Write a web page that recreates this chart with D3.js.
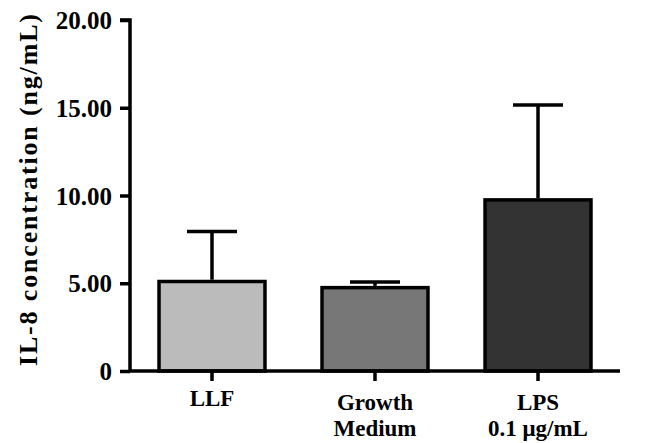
<!DOCTYPE html>
<html>
<head>
<meta charset="utf-8">
<script src="https://cdn.jsdelivr.net/npm/d3@7"></script>
<style>
  body { margin: 0; background: #fff; }
  text { font-family: "Liberation Serif", "Times New Roman", serif; font-weight: bold; fill: #000; }
</style>
</head>
<body>
<svg width="651" height="443"></svg>
<script>
// IL-8 bar chart with SD error bars
var groups = ["LLF", "Growth Medium", "LPS 0.1 μg/mL"];
var labelLines = [["LLF"], ["Growth", "Medium"], ["LPS", "0.1 μg/mL"]];
var means = [5.1, 4.75, 9.75];
var errTop = [7.95, 5.07, 15.15];
var fills = ["#bbbbbb", "#777777", "#333333"];
var yTicks = [0, 5, 10, 15, 20];

var svg = d3.select("svg");

var x = d3.scaleBand()
    .domain(groups)
    .range([130, 620])
    .paddingInner(0.35)
    .paddingOuter(0.178);

var y = d3.scaleLinear()
    .domain([0, 20])
    .range([371, 20]);

// bars
svg.selectAll("rect.bar")
    .data(groups)
    .enter()
    .append("rect")
    .attr("class", "bar")
    .attr("x", function(d) { return x(d); })
    .attr("y", function(d, i) { return y(means[i]); })
    .attr("width", x.bandwidth())
    .attr("height", function(d, i) { return y(0) - y(means[i]); })
    .attr("fill", function(d, i) { return fills[i]; })
    .attr("stroke", "#000")
    .attr("stroke-width", 3.5);

// error bars (upper only)
var eb = svg.selectAll("g.err")
    .data(groups)
    .enter()
    .append("g")
    .attr("class", "err");

eb.append("line")
    .attr("x1", function(d) { return x(d) + x.bandwidth() / 2; })
    .attr("x2", function(d) { return x(d) + x.bandwidth() / 2; })
    .attr("y1", function(d, i) { return y(means[i]) - 1.75; })
    .attr("y2", function(d, i) { return y(errTop[i]); })
    .attr("stroke", "#000")
    .attr("stroke-width", 3.5);

eb.append("line")
    .attr("x1", function(d) { return x(d) + x.bandwidth() / 2 - 25; })
    .attr("x2", function(d) { return x(d) + x.bandwidth() / 2 + 25; })
    .attr("y1", function(d, i) { return y(errTop[i]); })
    .attr("y2", function(d, i) { return y(errTop[i]); })
    .attr("stroke", "#000")
    .attr("stroke-width", 3.5);

// y axis
var yAxis = svg.append("g")
    .attr("transform", "translate(130,0)")
    .call(d3.axisLeft(y)
        .tickValues(yTicks)
        .tickSize(10)
        .tickPadding(8)
        .tickFormat(function(d) { return d === 0 ? "0" : d3.format(".2f")(d); }));

yAxis.attr("font-size", null).attr("font-family", null);
yAxis.select(".domain").attr("stroke-width", 3.5).attr("d", "M-10,20H0V371");
yAxis.selectAll(".tick line").attr("stroke-width", 3.5);
yAxis.selectAll(".tick text")
    .attr("dy", "0.34em")
    .style("font-size", "25px")
    .attr("fill", "#000");

// x axis
var xAxis = svg.append("g")
    .attr("transform", "translate(0,371)")
    .call(d3.axisBottom(x).tickSize(10).tickFormat(""));

xAxis.select(".domain").attr("stroke-width", 3.5).attr("d", "M130,0H620");
xAxis.selectAll(".tick line").attr("stroke-width", 3.5);

// category labels
labelLines.forEach(function(lines, i) {
    var t = svg.append("text")
        .attr("text-anchor", "middle")
        .style("font-size", "23px");
    lines.forEach(function(s, j) {
        t.append("tspan")
            .attr("x", x(groups[i]) + x.bandwidth() / 2)
            .attr("y", (lines.length === 1 ? 406 : 410) + j * 26)
            .text(s);
    });
});

// y title
svg.append("text")
    .attr("transform", "translate(37,190) rotate(-90)")
    .attr("text-anchor", "middle")
    .attr("textLength", 352)
    .attr("lengthAdjust", "spacing")
    .style("font-size", "26px")
    .text("IL-8 concentration (ng/mL)");
</script>
</body>
</html>
